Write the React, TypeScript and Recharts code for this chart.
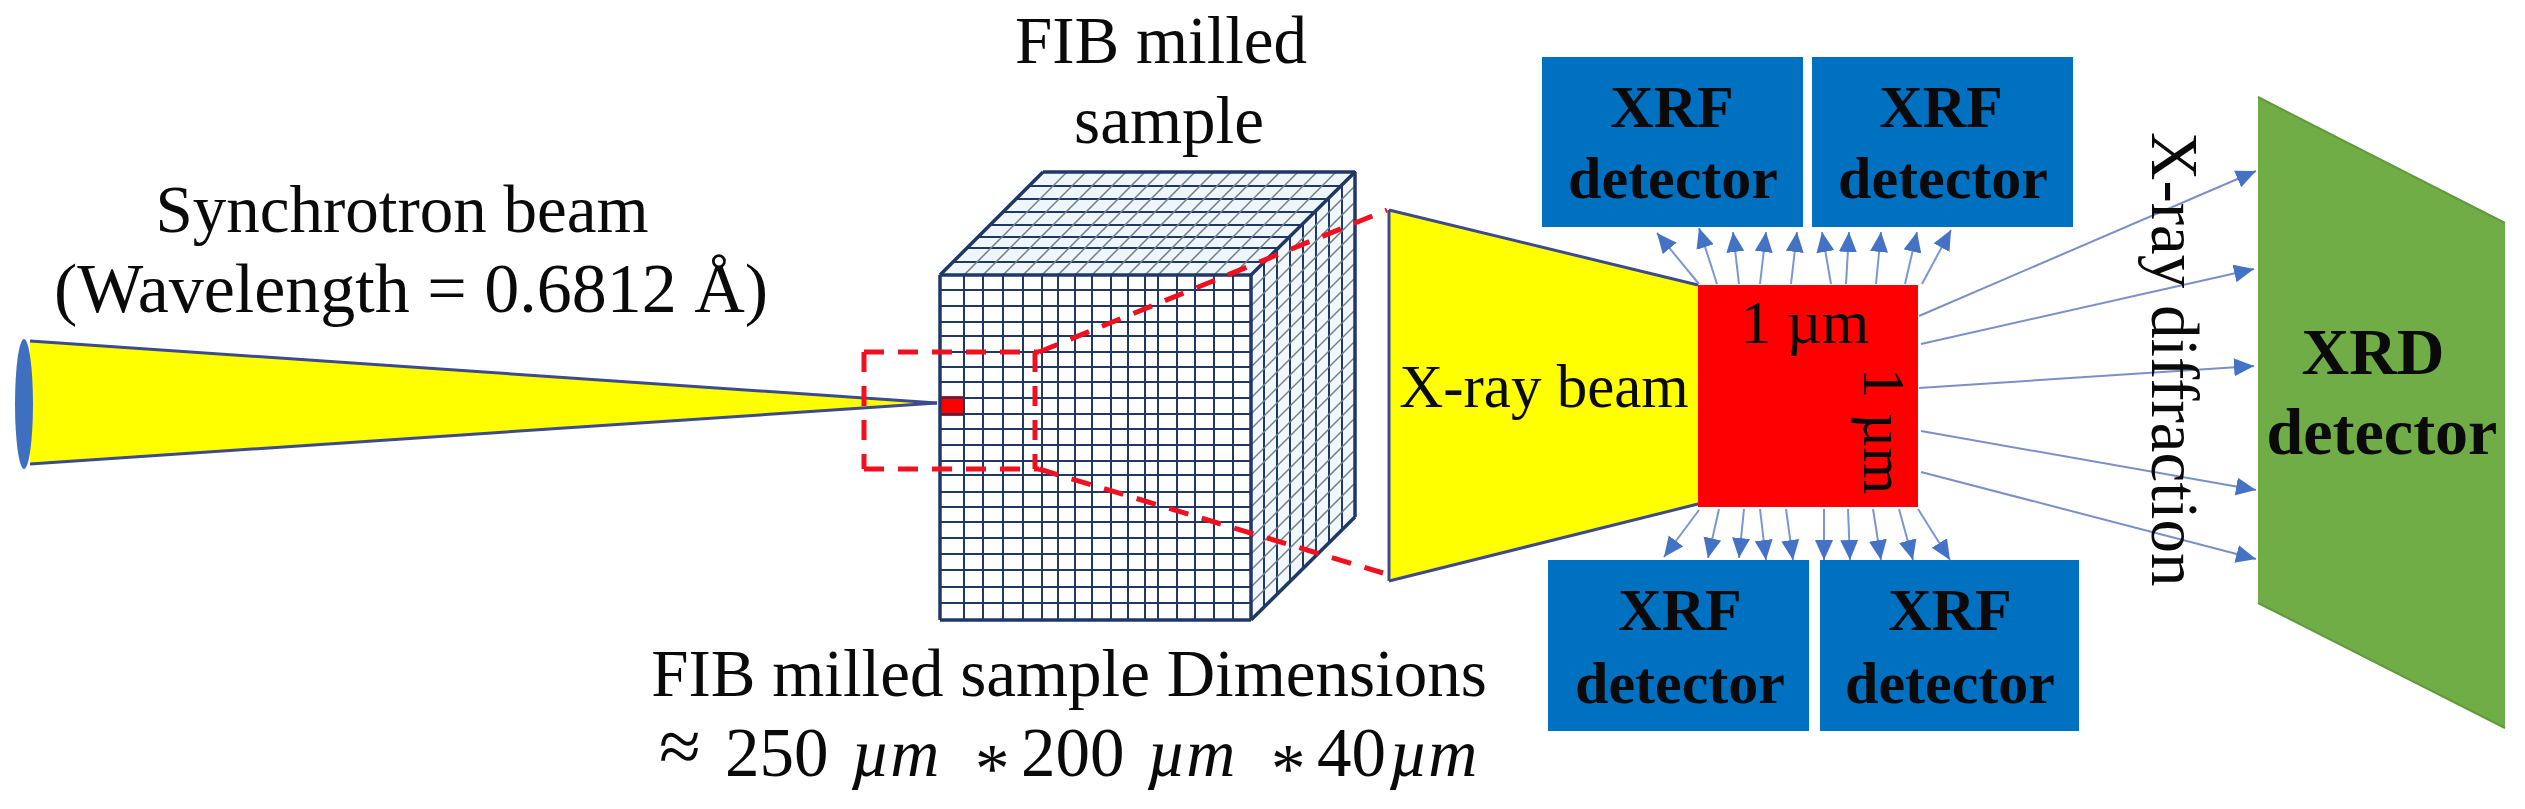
import { Area, ComposedChart, ReferenceLine, Scatter, XAxis, YAxis } from "recharts";

const WIDTH = 2525;
const HEIGHT = 809;

type Seg = [number, number, number, number];

// shapes: each one is x + [top, bottom] rows
const sampleTop = [
  { x: 940, band: [275, 275] },
  { x: 1043, band: [172, 275] },
  { x: 1251, band: [172, 275] },
  { x: 1355, band: [172, 172] },
];
const sampleSide = [
  { x: 1251, band: [275, 620] },
  { x: 1355, band: [172, 517] },
];
const sampleFront = [
  { x: 940, band: [275, 620] },
  { x: 1251, band: [275, 620] },
];
const beamCone = [
  { x: 30, band: [341, 464] },
  { x: 937, band: [403, 403] },
];
const probeSquare = [
  { x: 939, band: [396, 416] },
  { x: 963, band: [396, 416] },
];
const xrayTrapezoid = [
  { x: 1389, band: [210, 581] },
  { x: 1698, band: [285, 504] },
];
const spotSquare = [
  { x: 1698, band: [285, 507] },
  { x: 1918, band: [285, 507] },
];
const xrdPanel = [
  { x: 2258, band: [97, 603] },
  { x: 2505, band: [223, 728] },
];
const xrfBoxes = [
  [
    { x: 1542, band: [57, 227] },
    { x: 1803, band: [57, 227] },
  ],
  [
    { x: 1812, band: [57, 227] },
    { x: 2073, band: [57, 227] },
  ],
  [
    { x: 1548, band: [560, 731] },
    { x: 1809, band: [560, 731] },
  ],
  [
    { x: 1820, band: [560, 731] },
    { x: 2079, band: [560, 731] },
  ],
];

// sample grid
const frontColumns = [940, 964, 983, 1003, 1023, 1042, 1058, 1075, 1092, 1111, 1128, 1145, 1158, 1177, 1195, 1214, 1233, 1251];
const frontRows = [275, 290, 306, 322, 336, 352, 367, 382, 398, 414, 429, 445, 461, 475, 492, 507, 522, 538, 554, 570, 587, 603, 620];
const topRows = [172, 186, 199, 212, 225, 237, 248, 262];
const sideColumns = [1264, 1277, 1290, 1303, 1316, 1329, 1342, 1355];
const DEPTH = 103;

const gridLines: Seg[] = [
  ...frontColumns.map((x): Seg => [x, 275, x, 620]),
  ...frontRows.map((y): Seg => [940, y, 1251, y]),
  ...topRows.map((y): Seg => [940 + 275 - y, y, 1251 + 275 - y, y]),
  ...sideColumns.map((x): Seg => [x, 275 - (x - 1251), x, 620 - (x - 1251)]),
];
const hatchLines: Seg[] = [
  ...frontColumns.map((x): Seg => [x, 275, x + DEPTH, 172]),
  ...frontRows.map((y): Seg => [1251, y, 1251 + DEPTH, y - DEPTH]),
];
const outlineLines: Seg[] = [
  [940, 275, 1251, 275],
  [1251, 275, 1251, 620],
  [1251, 620, 940, 620],
  [940, 620, 940, 275],
  [940, 275, 1043, 172],
  [1043, 172, 1355, 172],
  [1355, 172, 1251, 275],
  [1355, 172, 1355, 517],
  [1355, 517, 1251, 620],
];

const dashedLines: Seg[] = [
  [864, 352, 1039, 352],
  [864, 469, 1039, 469],
  [864, 352, 864, 469],
  [1035, 352, 1035, 469],
  [1039, 352, 1387, 210],
  [1039, 469, 1383, 573],
];

const coneEdges: Seg[] = [
  [30, 341, 937, 403],
  [30, 464, 937, 403],
  [1389, 210, 1698, 285],
  [1389, 581, 1698, 504],
  [1389, 210, 1389, 581],
];

const xrfArrows: Seg[] = [
  [1699, 284, 1657, 233],
  [1717, 284, 1699, 228],
  [1739, 284, 1733, 232],
  [1760, 284, 1766, 232],
  [1791, 284, 1797, 232],
  [1831, 284, 1822, 232],
  [1846, 284, 1849, 232],
  [1876, 284, 1881, 232],
  [1905, 284, 1917, 232],
  [1922, 284, 1951, 230],
  [1699, 510, 1664, 557],
  [1719, 509, 1708, 558],
  [1744, 509, 1739, 558],
  [1760, 509, 1766, 560],
  [1786, 509, 1793, 560],
  [1824, 509, 1824, 560],
  [1848, 509, 1850, 560],
  [1873, 509, 1881, 560],
  [1899, 509, 1913, 560],
  [1918, 509, 1950, 560],
];
const xrdArrows: Seg[] = [
  [1919, 316, 2256, 171],
  [1921, 344, 2254, 269],
  [1919, 388, 2254, 366],
  [1921, 431, 2256, 490],
  [1921, 472, 2256, 559],
];

const lensPoint = [{ x: 24, y: 404 }];

// text
const plainLabels = [
  { x: 402, y: 232, text: "Synchrotron beam" },
  { x: 1161, y: 63, text: "FIB milled" },
  { x: 1169, y: 143, text: "sample" },
  { x: 1069, y: 696, text: "FIB milled sample Dimensions" },
];
const wavelengthLabel = [{ x: 411, y: 312, text: "(Wavelength = 0.6812 Å)" }];
const smallLabels = [
  { x: 1544, y: 407, text: "X-ray beam" },
  { x: 1805, y: 343, text: "1 µm" },
];
const xrfLabels = [
  { x: 1672, y: 127, text: "XRF" },
  { x: 1673, y: 198, text: "detector" },
  { x: 1941, y: 127, text: "XRF" },
  { x: 1943, y: 198, text: "detector" },
  { x: 1680, y: 630, text: "XRF" },
  { x: 1680, y: 703, text: "detector" },
  { x: 1950, y: 630, text: "XRF" },
  { x: 1950, y: 703, text: "detector" },
];
const xrdLabels = [
  { x: 2373, y: 374, text: "XRD" },
  { x: 2382, y: 454, text: "detector" },
];
const sideLabels = [
  { x: 1864, y: 368, text: "1 µm", size: 60 },
  { x: 2152, y: 132, text: "X-ray diffraction", size: 67 },
];
const mathLabel = [{ x: 659, y: 776 }];
const mathTexts = ["≈ ", "250 ", "µm ", "* ", "200 ", "µm ", "* ", "40", "µm"];
const mathStarts = [659, 725, 851, 975, 1021, 1147, 1271, 1317, 1389];

const SERIF = "'Liberation Serif', 'Times New Roman', serif";

function textShape(fontSize: number, fontWeight = 400) {
  return (props: any) => (
    <text x={props.cx} y={props.cy} textAnchor="middle" fontFamily={SERIF} fontSize={fontSize} fontWeight={fontWeight} fill="#0a0a0a">
      {props.payload.text}
    </text>
  );
}

function SideText(props: any) {
  return (
    <text
      x={props.cx}
      y={props.cy}
      fontFamily={SERIF}
      fontSize={props.payload.size}
      fill="#0a0a0a"
      transform={`rotate(90 ${props.cx} ${props.cy})`}
    >
      {props.payload.text}
    </text>
  );
}

function MathText(props: any) {
  return (
    <text y={props.cy} fontFamily={SERIF} fontSize={69} fill="#0a0a0a">
      {mathTexts.map((p, i) => {
        const isUnit = p.startsWith("µ");
        const isStar = p.startsWith("*");
        const isApprox = p.startsWith("≈");
        return (
          <tspan
            key={i}
            x={props.cx + mathStarts[i] - mathStarts[0]}
            y={props.cy + (isStar ? 16 : isApprox ? -4 : 0)}
            fontStyle={isUnit ? "italic" : "normal"}
            fontSize={isUnit ? 68 : isApprox ? 76 : 69}
          >
            {p}
          </tspan>
        );
      })}
    </text>
  );
}

function Lens(props: any) {
  return <ellipse cx={props.cx} cy={props.cy} rx={9} ry={65} fill="#3f70c0" />;
}

function shapeArea(key: string, data: any[], fill: string, stroke = "none") {
  return (
    <Area
      key={key}
      data={data}
      dataKey="band"
      type="linear"
      fill={fill}
      fillOpacity={1}
      stroke={stroke}
      strokeWidth={2}
      dot={false}
      activeDot={false}
      legendType="none"
      isAnimationActive={false}
    />
  );
}

function segLines(prefix: string, segs: Seg[], style: any) {
  return segs.map((s, i) => (
    <ReferenceLine
      key={prefix + i}
      segment={[
        { x: s[0], y: s[1] },
        { x: s[2], y: s[3] },
      ]}
      ifOverflow="visible"
      {...style}
    />
  ));
}

function labelSeries(key: string, data: any[], shape: any) {
  return <Scatter key={key} data={data} dataKey="y" shape={shape} legendType="none" isAnimationActive={false} />;
}

function baseShapes() {
  return [
    shapeArea("front", sampleFront, "#ffffff"),
    shapeArea("top", sampleTop, "#eef5fb"),
    shapeArea("side", sampleSide, "#f1f7fc"),
    shapeArea("beam", beamCone, "#ffff00"),
    shapeArea("trapezoid", xrayTrapezoid, "#ffff00"),
    shapeArea("spot", spotSquare, "#ff0000"),
    shapeArea("xrd", xrdPanel, "#70ad47", "#5f9a3c"),
    ...xrfBoxes.map((b, i) => shapeArea("box" + i, b, "#0070c0")),
  ];
}

export default function App() {
  return (
    <div style={{ position: "absolute", left: 0, top: 0, width: WIDTH, height: HEIGHT, background: "#fff" }}>
      <ComposedChart width={WIDTH} height={HEIGHT} margin={{ top: 0, right: 0, bottom: 0, left: 0 }}>
        <defs>
          <marker id="arrowHead" markerUnits="userSpaceOnUse" markerWidth={22} markerHeight={20} refX={20} refY={9} orient="auto">
            <path d="M0,0 L20,9 L0,18 Z" fill="#4472c4" />
          </marker>
        </defs>
        <XAxis type="number" dataKey="x" domain={[0, WIDTH]} hide allowDataOverflow />
        <YAxis type="number" domain={[0, HEIGHT]} reversed hide allowDataOverflow width={0} />

        {labelSeries("lens", lensPoint, Lens)}
        {baseShapes()}
        {segLines("grid", gridLines, { stroke: "#1f3864", strokeWidth: 2 })}
        {segLines("hatch", hatchLines, { stroke: "#6f8088", strokeWidth: 1.5 })}
        {segLines("outline", outlineLines, { stroke: "#1f3864", strokeWidth: 3.5 })}
        {shapeArea("probe", probeSquare, "#ff0000")}
        {segLines("cone", coneEdges, { stroke: "#3d4a8e", strokeWidth: 3 })}
        {segLines("dash", dashedLines, { stroke: "#f01020", strokeWidth: 5, strokeDasharray: "20 14" })}
        {segLines("xrf", xrfArrows, { stroke: "#7b97cf", strokeWidth: 2, markerEnd: "url(#arrowHead)" })}
        {segLines("xrd", xrdArrows, { stroke: "#7b8fc8", strokeWidth: 2, markerEnd: "url(#arrowHead)" })}

        {labelSeries("plain", plainLabels, textShape(67))}
        {labelSeries("wave", wavelengthLabel, textShape(70))}
        {labelSeries("small", smallLabels, textShape(61))}
        {labelSeries("xrfText", xrfLabels, textShape(60, 700))}
        {labelSeries("xrdText", xrdLabels, textShape(66, 700))}
        {labelSeries("side", sideLabels, SideText)}
        {labelSeries("math", mathLabel, MathText)}
      </ComposedChart>
    </div>
  );
}
